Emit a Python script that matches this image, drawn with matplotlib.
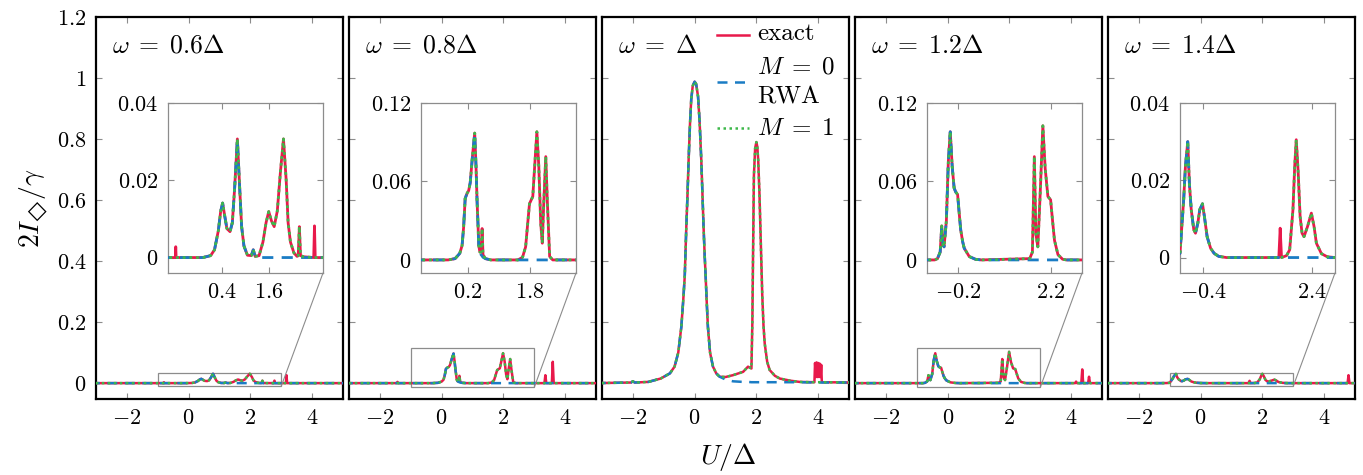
import matplotlib
matplotlib.use('Agg')
import matplotlib.pyplot as plt
from matplotlib.patches import Rectangle, ConnectionPatch

plt.rcParams['mathtext.fontset'] = 'cm'
plt.rcParams['font.family'] = 'serif'
plt.rcParams['font.serif'] = ['cmr10', 'DejaVu Serif']
plt.rcParams['axes.unicode_minus'] = False
plt.rcParams['axes.formatter.use_mathtext'] = True

# ---------------- data ----------------
# omega = 0.6 Delta
p1_x = [-3.2, -0.81, -0.80, -0.79, -0.1, 0.1, 0.2, 0.3, 0.36, 0.41, 0.46, 0.52, 0.60, 0.66, 0.72, 0.79,
        0.85, 0.90, 0.96, 1.05, 1.15, 1.20, 1.25, 1.35, 1.45, 1.53, 1.60, 1.67, 1.74, 1.82, 1.90, 1.98,
        2.05, 2.10, 2.16, 2.25, 2.33, 2.36, 2.39, 2.42, 2.5, 2.76, 2.78, 2.80, 3.15, 3.17, 3.19, 5.2]
p1_exact = [0, 0, 0.0028, 0, 0, 0.0005, 0.002, 0.007, 0.012, 0.0141, 0.011, 0.0075, 0.0067, 0.009, 0.018, 0.0307,
            0.018, 0.008, 0.003, 0.0006, 0.0005, 0.002, 0.0003, 0.0005, 0.004, 0.009, 0.0119, 0.0095, 0.008, 0.012, 0.022, 0.0307,
            0.02, 0.009, 0.004, 0.0012, 0.0003, 0.0005, 0.008, 0.0005, 0.0002, 0, 0.0082, 0, 0, 0.026, 0, 0]
p1_m1 = [0, 0, 0, 0, 0, 0.0005, 0.002, 0.007, 0.012, 0.0141, 0.011, 0.0075, 0.0067, 0.009, 0.018, 0.0307,
         0.018, 0.008, 0.003, 0.0006, 0.0005, 0.002, 0.0003, 0.0005, 0.004, 0.009, 0.0119, 0.0095, 0.008, 0.012, 0.022, 0.0307,
         0.02, 0.009, 0.004, 0.0012, 0.0003, 0.0005, 0.008, 0.0005, 0.0002, 0, 0, 0, 0, 0, 0, 0]
p1_rwa = [0, 0, 0, 0, 0, 0.0005, 0.002, 0.007, 0.012, 0.0141, 0.011, 0.0075, 0.0067, 0.009, 0.018, 0.0307,
          0.018, 0.008, 0.003, 0.0006, 0.0005, 0.002, 0.0003, 0, 0, 0, 0, 0, 0, 0, 0, 0,
          0, 0, 0, 0, 0, 0, 0, 0, 0, 0, 0, 0, 0, 0, 0, 0]

# omega = 0.8 Delta
p2_x = [-3.2, -1.46, -1.43, -1.40, -0.3, -0.12, 0.0, 0.06, 0.10, 0.14, 0.19, 0.23, 0.27, 0.33, 0.386, 0.42,
        0.447, 0.47, 0.49, 0.52, 0.55, 0.577, 0.60, 0.66, 0.8, 1.5, 1.62, 1.70, 1.76, 1.80, 1.885, 1.93,
        1.99, 2.04, 2.09, 2.13, 2.17, 2.22, 2.26, 2.32, 2.4, 3.33, 3.36, 3.39, 3.57, 3.60, 3.63, 5.2]
p2_exact = [0, 0, 0.004, 0, 0, 0.001, 0.005, 0.011, 0.025, 0.047, 0.051, 0.053, 0.059, 0.08, 0.097, 0.0715,
            0.045, 0.028, 0.011, 0.006, 0.006, 0.024, 0.004, 0.001, 0, 0, 0.002, 0.01, 0.03, 0.043, 0.0485, 0.07,
            0.098, 0.0715, 0.028, 0.0128, 0.045, 0.079, 0.045, 0.0026, 0, 0, 0.026, 0, 0, 0.07, 0, 0]
p2_m1 = [0, 0, 0, 0, 0, 0.001, 0.005, 0.011, 0.025, 0.047, 0.051, 0.053, 0.059, 0.08, 0.097, 0.0715,
         0.045, 0.028, 0.011, 0.006, 0.006, 0.024, 0.004, 0.001, 0, 0, 0.002, 0.01, 0.03, 0.043, 0.0485, 0.07,
         0.098, 0.0715, 0.028, 0.0128, 0.045, 0.079, 0.045, 0.0026, 0, 0, 0, 0, 0, 0, 0, 0]
p2_rwa = [0, 0, 0, 0, 0, 0.001, 0.005, 0.011, 0.025, 0.047, 0.051, 0.053, 0.059, 0.08, 0.097, 0.0715,
          0.045, 0.028, 0.011, 0.006, 0.004, 0.003, 0.002, 0.001, 0, 0, 0, 0, 0, 0, 0, 0,
          0, 0, 0, 0, 0, 0, 0, 0, 0, 0, 0, 0, 0, 0, 0, 0]

# omega = Delta
p3_x = [-3.2, -2.06, -2.0, -1.94, -1.5, -1.1, -0.8, -0.65, -0.53, -0.43, -0.37, -0.32, -0.27, -0.23, -0.195, -0.15,
        -0.11, -0.06, 0.0, 0.05, 0.11, 0.16, 0.216, 0.25, 0.29, 0.325, 0.357, 0.39, 0.43, 0.5, 0.595, 0.7,
        0.81, 1.0, 1.24, 1.57, 1.73, 1.84, 1.87, 1.89, 1.92, 1.96, 2.0, 2.03, 2.06, 2.1, 2.13, 2.16,
        2.19, 2.23, 2.27, 2.35, 2.43, 2.6, 2.76, 3.1, 3.4, 3.88, 3.9, 3.93, 3.95, 3.98, 4.0, 4.03,
        4.05, 4.08, 4.1, 4.12, 5.2]
p3_exact = [0, 0.002, 0.006, 0.002, 0.004, 0.015, 0.032, 0.054, 0.10, 0.185, 0.27, 0.35, 0.51, 0.62, 0.73, 0.85,
            0.93, 0.975, 0.988, 0.98, 0.94, 0.86, 0.73, 0.63, 0.51, 0.42, 0.35, 0.27, 0.185, 0.10, 0.054, 0.032,
            0.021, 0.02, 0.026, 0.037, 0.054, 0.048, 0.2, 0.40, 0.68, 0.77, 0.79, 0.775, 0.73, 0.62, 0.51, 0.40,
            0.29, 0.19, 0.13, 0.07, 0.043, 0.024, 0.015, 0.008, 0.004, 0.003, 0.066, 0.02, 0.068, 0.02, 0.066, 0.02,
            0.064, 0.02, 0.06, 0.003, 0.002]
p3_m1 = [0, 0.002, 0.006, 0.002, 0.004, 0.015, 0.032, 0.054, 0.10, 0.185, 0.27, 0.35, 0.51, 0.62, 0.73, 0.85,
         0.93, 0.975, 0.988, 0.98, 0.94, 0.86, 0.73, 0.63, 0.51, 0.42, 0.35, 0.27, 0.185, 0.10, 0.054, 0.032,
         0.021, 0.02, 0.026, 0.037, 0.054, 0.048, 0.2, 0.40, 0.68, 0.77, 0.79, 0.775, 0.73, 0.62, 0.51, 0.40,
         0.29, 0.19, 0.13, 0.07, 0.043, 0.024, 0.015, 0.008, 0.004, 0.003, 0.003, 0.003, 0.003, 0.003, 0.003, 0.003,
         0.003, 0.003, 0.003, 0.003, 0.002]
p3_rwa = [0, 0.002, 0.006, 0.002, 0.004, 0.015, 0.032, 0.054, 0.10, 0.185, 0.27, 0.35, 0.51, 0.62, 0.73, 0.85,
          0.93, 0.975, 0.988, 0.98, 0.94, 0.86, 0.73, 0.63, 0.51, 0.42, 0.35, 0.27, 0.185, 0.10, 0.054, 0.032,
          0.021, 0.012, 0.006, 0.004, 0.004, 0.003, 0.003, 0.003, 0.003, 0.003, 0.003, 0.003, 0.003, 0.003, 0.003, 0.003,
          0.003, 0.003, 0.003, 0.003, 0.003, 0.003, 0.003, 0.003, 0.003, 0.002, 0.002, 0.002, 0.002, 0.002, 0.002, 0.002,
          0.002, 0.002, 0.002, 0.002, 0.002]

# omega = 1.2 Delta
p4_x = [-3.2, -0.8, -0.73, -0.66, -0.62, -0.59, -0.56, -0.50, -0.45, -0.40, -0.35, -0.30, -0.26, -0.21, -0.17, -0.13,
        -0.08, -0.04, 0.09, 0.25, 0.4, 1.65, 1.72, 1.77, 1.81, 1.86, 1.92, 1.99, 2.05, 2.12, 2.19, 2.24,
        2.29, 2.38, 2.5, 2.6, 4.13, 4.16, 4.19, 4.33, 4.36, 4.39, 4.55, 4.58, 4.61, 5.2]
p4_exact = [0, 0, 0.001, 0.006, 0.026, 0.012, 0.010, 0.03, 0.075, 0.098, 0.0715, 0.055, 0.052, 0.050, 0.036, 0.023,
            0.014, 0.009, 0.0026, 0.0005, 0, 0.001, 0.006, 0.079, 0.02, 0.010, 0.05, 0.1026, 0.07, 0.0485, 0.046, 0.03,
            0.015, 0.004, 0.0005, 0, 0, 0.005, 0, 0, 0.045, 0, 0, 0.021, 0, 0]
p4_m1 = [0, 0, 0.001, 0.006, 0.026, 0.012, 0.010, 0.03, 0.075, 0.098, 0.0715, 0.055, 0.052, 0.050, 0.036, 0.023,
         0.014, 0.009, 0.0026, 0.0005, 0, 0.001, 0.006, 0.079, 0.02, 0.010, 0.05, 0.1026, 0.07, 0.0485, 0.046, 0.03,
         0.015, 0.004, 0.0005, 0, 0, 0, 0, 0, 0, 0, 0, 0, 0, 0]
p4_rwa = [0, 0, 0.001, 0.006, 0.024, 0.012, 0.010, 0.03, 0.075, 0.098, 0.0715, 0.055, 0.052, 0.050, 0.036, 0.023,
          0.014, 0.009, 0.0026, 0.0005, 0, 0, 0, 0, 0, 0, 0, 0, 0, 0, 0, 0,
          0, 0, 0, 0, 0, 0, 0, 0, 0, 0, 0, 0, 0, 0]

# omega = 1.4 Delta
p5_x = [-3.2, -1.3, -1.1, -1.0, -0.905, -0.86, -0.80, -0.757, -0.71, -0.644, -0.60, -0.54, -0.49, -0.42, -0.37, -0.30,
        -0.21, -0.12, 0.0, 0.2, 1.55, 1.585, 1.62, 1.75, 1.83, 1.915, 1.96, 2.00, 2.05, 2.10, 2.15, 2.20,
        2.29, 2.39, 2.46, 2.52, 2.65, 2.8, 3.0, 4.76, 4.79, 4.82, 5.2]
p5_exact = [0, 0, 0.0003, 0.0011, 0.015, 0.0236, 0.030, 0.019, 0.0124, 0.0072, 0.0063, 0.0089, 0.0124, 0.0139, 0.0106, 0.0054,
            0.0024, 0.0011, 0.0003, 0, 0, 0.0076, 0, 0.0005, 0.002, 0.0124, 0.0236, 0.0305, 0.022, 0.0106, 0.0063, 0.0054,
            0.008, 0.0115, 0.008, 0.0037, 0.001, 0.0002, 0, 0, 0.026, 0, 0]
p5_m1 = [0, 0, 0.0003, 0.0011, 0.015, 0.0236, 0.030, 0.019, 0.0124, 0.0072, 0.0063, 0.0089, 0.0124, 0.0139, 0.0106, 0.0054,
         0.0024, 0.0011, 0.0003, 0, 0, 0, 0, 0.0005, 0.002, 0.0124, 0.0236, 0.0305, 0.022, 0.0106, 0.0063, 0.0054,
         0.008, 0.0115, 0.008, 0.0037, 0.001, 0.0002, 0, 0, 0, 0, 0]
p5_rwa = [0, 0, 0.0003, 0.0011, 0.015, 0.0236, 0.030, 0.019, 0.0124, 0.0072, 0.0063, 0.0089, 0.0124, 0.0139, 0.0106, 0.0054,
          0.0024, 0.0011, 0.0003, 0, 0, 0, 0, 0, 0, 0, 0, 0, 0, 0, 0, 0,
          0, 0, 0, 0, 0, 0, 0, 0, 0, 0, 0]

titles = [r'$\omega\;=\;0.6\Delta$', r'$\omega\;=\;0.8\Delta$', r'$\omega\;=\;\Delta$',
          r'$\omega\;=\;1.2\Delta$', r'$\omega\;=\;1.4\Delta$']
main_xticks = [-2, 0, 2, 4]
main_xlabels = [r'$-2$', r'$0$', r'$2$', r'$4$']
main_yticks = [0, 0.2, 0.4, 0.6, 0.8, 1.0, 1.2]
main_ylabels = [r'$0$', r'$0.2$', r'$0.4$', r'$0.6$', r'$0.8$', r'$1$', r'$1.2$']

# inset settings per panel (None = no inset)
inset_ylim = [(-0.004, 0.04), (-0.01, 0.12), None, (-0.01, 0.12), (-0.004, 0.04)]
inset_yticks = [[0, 0.02, 0.04], [0, 0.06, 0.12], None, [0, 0.06, 0.12], [0, 0.02, 0.04]]
inset_ylabels = [['0', '0.02', '0.04'], ['0', '0.06', '0.12'], None, ['0', '0.06', '0.12'], ['0', '0.02', '0.04']]
inset_xticks = [[0.4, 1.6], [0.2, 1.8], None, [-0.2, 2.2], [-0.4, 2.4]]
inset_xlabels = [['0.4', '1.6'], ['0.2', '1.8'], None, ['-0.2', '2.2'], ['-0.4', '2.4']]
box_y = [(-0.01, 0.033), (-0.014, 0.116), None, (-0.014, 0.116), (-0.01, 0.033)]

# legend entries (drawn by hand in the middle panel)
legend_labels = ['exact', '$M\\;=\\;0$', 'RWA', '$M\\;=\\;1$']

panels = [(p1_x, p1_exact, p1_rwa, p1_m1), (p2_x, p2_exact, p2_rwa, p2_m1),
          (p3_x, p3_exact, p3_rwa, p3_m1), (p4_x, p4_exact, p4_rwa, p4_m1),
          (p5_x, p5_exact, p5_rwa, p5_m1)]

RED = '#E8194B'
BLUE = '#1A7CC4'
GREEN = '#3DB84A'
GREY = '#8c8c8c'
W, H = 1363, 475
FS = 16
DASH = (4, 3)
DOT = (1, 1.4)


def draw_curves(ax, x, exact, rwa, m1, lw):
    ax.plot(x, exact, color=RED, lw=lw, zorder=3)
    ax.plot(x, rwa, color=BLUE, lw=lw, dashes=DASH, zorder=4)
    ax.plot(x, m1, color=GREEN, lw=lw, dashes=DOT, zorder=5)


fig = plt.figure(figsize=(W / 100, H / 100), dpi=100)

for i, (x, exact, rwa, m1) in enumerate(panels):
    left = 96 + 253 * i
    ax = fig.add_axes([left / W, 76 / H, 247 / W, 382 / H])
    draw_curves(ax, x, exact, rwa, m1, 1.8)
    ax.set_xlim(-3, 5)
    ax.set_ylim(-0.052, 1.2)
    ax.set_xticks(main_xticks)
    ax.set_xticklabels(main_xlabels)
    ax.set_yticks(main_yticks)
    ax.set_yticklabels(main_ylabels)
    ax.tick_params(direction='in', top=True, right=True, color=GREY, length=4.5, width=0.8,
                   labelsize=FS, pad=7)
    if i > 0:
        ax.tick_params(labelleft=False)
    for s in ax.spines.values():
        s.set_linewidth(1.6)
    ax.text(16 / 247, 0.906, titles[i], transform=ax.transAxes, fontsize=18.5, va='baseline')

    if inset_ylim[i] is not None:
        lo, hi = box_y[i]
        ax.add_patch(Rectangle((-1, lo), 4, hi - lo, fill=False, ec=GREY, lw=0.9, zorder=2))
        ins = fig.add_axes([(left + 72) / W, (475 - 273) / H, 155 / W, 170 / H])
        draw_curves(ins, x, exact, rwa, m1, 2.0)
        ins.set_xlim(-1, 3)
        ins.set_ylim(*inset_ylim[i])
        ins.set_xticks(inset_xticks[i])
        ins.set_xticklabels(['$%s$' % t for t in inset_xlabels[i]])
        ins.set_yticks(inset_yticks[i])
        ins.set_yticklabels(['$%s$' % t for t in inset_ylabels[i]])
        ins.tick_params(direction='in', top=True, right=True, color=GREY, length=4.5, width=0.8,
                        labelsize=FS, pad=7)
        for s in ins.spines.values():
            s.set_color(GREY)
            s.set_linewidth(0.9)
        con = ConnectionPatch(xyA=(3, lo), coordsA=ax.transData, xyB=(1, 0), coordsB=ins.transAxes,
                              color=GREY, lw=0.8)
        fig.add_artist(con)

    if i == 0:
        ax.set_ylabel('$2I_{\u25c7}/\\gamma$', fontsize=20, labelpad=4)

    if i == 2:
        # hand-made legend: handle rows and label baselines in axes fractions
        hx = [0.464, 0.596]
        ax.plot(hx, [0.953, 0.953], color=RED, lw=1.8, transform=ax.transAxes, clip_on=False)
        ax.plot(hx, [0.8306, 0.8306], color=BLUE, lw=1.8, dashes=DASH, transform=ax.transAxes, clip_on=False)
        ax.plot(hx, [0.7086, 0.7086], color=GREEN, lw=1.8, dashes=DOT, transform=ax.transAxes, clip_on=False)
        for lab, yb in zip(legend_labels, [0.9398, 0.8526, 0.7741, 0.6911]):
            ax.text(0.6275, yb, lab, transform=ax.transAxes, fontsize=18, va='baseline')

fig.text(728 / W, (475 - 457) / H, r'$U/\Delta$', ha='center', va='center', fontsize=20)

fig.savefig('out.png', dpi=100)
